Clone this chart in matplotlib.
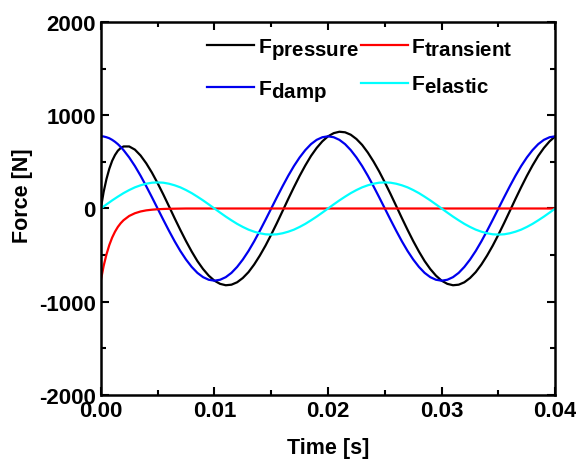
import numpy as np
import matplotlib
matplotlib.use("Agg")
import matplotlib.pyplot as plt
import matplotlib._mathtext as mathtext_impl
from matplotlib.ticker import MultipleLocator

plt.rcParams['font.family'] = ['Liberation Sans', 'DejaVu Sans']
plt.rcParams['font.weight'] = 'bold'
plt.rcParams['axes.labelweight'] = 'bold'
plt.rcParams['axes.unicode_minus'] = False
plt.rcParams['mathtext.fontset'] = 'custom'
plt.rcParams['mathtext.rm'] = 'Liberation Sans:bold'
plt.rcParams['mathtext.default'] = 'rm'
# subscripts in the legend are drawn at nearly full size
mathtext_impl.SHRINK_FACTOR = 0.97

# time axis: fine steps over the first 2 ms, then 0.5 ms steps
time_s = np.concatenate([np.linspace(0, 0.00175, 8), np.linspace(0.002, 0.04, 77)])

# forces [N]
f_damp = [775, 773, 765, 754, 737, 716, 691, 661,
          627, 548, 456, 352, 239, 121, 0,
          -121, -239, -352, -456, -548, -627, -691, -737, -765, -775,
          -765, -737, -691, -627, -548, -456, -352, -239, -121, 0,
          121, 239, 352, 456, 548, 627, 691, 737, 765, 775,
          765, 737, 691, 627, 548, 456, 352, 239, 121, 0,
          -121, -239, -352, -456, -548, -627, -691, -737, -765, -775,
          -765, -737, -691, -627, -548, -456, -352, -239, -121, 0,
          121, 239, 352, 456, 548, 627, 691, 737, 765, 775]

f_elastic = [0, 22, 44, 65, 87, 107, 127, 146,
             165, 198, 227, 249, 266, 277, 280,
             277, 266, 249, 227, 198, 165, 127, 87, 44, 0,
             -44, -87, -127, -165, -198, -227, -249, -266, -277, -280,
             -277, -266, -249, -227, -198, -165, -127, -87, -44, 0,
             44, 87, 127, 165, 198, 227, 249, 266, 277, 280,
             277, 266, 249, 227, 198, 165, 127, 87, 44, 0,
             -44, -87, -127, -165, -198, -227, -249, -266, -277, -280,
             -277, -266, -249, -227, -198, -165, -127, -87, -44, 0]

f_transient = [-775, -617, -492, -392, -312, -249, -198, -158,
               -126, -80, -51, -32, -20, -13, -8,
               -5, -3, -2, -1] + [0] * 66

f_pressure = [0, 178, 317, 427, 512, 574, 620, 649,
              666, 666, 632, 569, 485, 385, 272,
              151, 24, -105, -230, -350, -462, -564, -650, -721, -775,
              -809, -824, -818, -792, -746, -683, -601, -505, -398, -280,
              -156, -27, 103, 229, 350, 462, 564, 650, 721, 775,
              809, 824, 818, 792, 746, 683, 601, 505, 398, 280,
              156, 27, -103, -229, -350, -462, -564, -650, -721, -775,
              -809, -824, -818, -792, -746, -683, -601, -505, -398, -280,
              -156, -27, 103, 229, 350, 462, 564, 650, 721, 775]

fig = plt.figure(figsize=(5.76, 4.64), dpi=100)
ax = fig.add_axes([0.175, 0.147, 0.789, 0.803])

ax.plot(time_s, f_pressure, color='black', lw=1.6, label=r'F$_{pressure}$')
ax.plot(time_s, f_damp, color='#0000ee', lw=1.6, label=r'F$_{damp}$')
ax.plot(time_s, f_transient, color='#ff0000', lw=1.6, label=r'F$_{transient}$')
ax.plot(time_s, f_elastic, color='#00ffff', lw=1.6, label=r'F$_{elastic}$')

ax.set_xlim(0, 0.04)
ax.set_ylim(-2000, 2000)
ax.xaxis.set_major_locator(MultipleLocator(0.01))
ax.xaxis.set_minor_locator(MultipleLocator(0.005))
ax.yaxis.set_major_locator(MultipleLocator(1000))
ax.yaxis.set_minor_locator(MultipleLocator(500))
ax.xaxis.set_major_formatter(plt.FormatStrFormatter('%.2f'))
ax.tick_params(which='both', direction='in', top=True, right=True, width=1.5,
               labelsize=16)
ax.tick_params(which='major', length=6)
ax.tick_params(which='minor', length=3.5)
for s in ax.spines.values():
    s.set_linewidth(1.8)

ax.set_xlabel('Time [s]', fontsize=15.5, labelpad=12)
ax.set_ylabel('Force [N]', fontsize=15.5)
ax.yaxis.set_label_coords(-0.15, 0.536)

ax.legend(loc='upper left', bbox_to_anchor=(0.215, 0.985), ncol=2,
          frameon=False, fontsize=15.2, handlelength=2.25, handletextpad=0.15,
          columnspacing=0.1, labelspacing=0.78, borderaxespad=0)

fig.savefig('out.png', dpi=100)
